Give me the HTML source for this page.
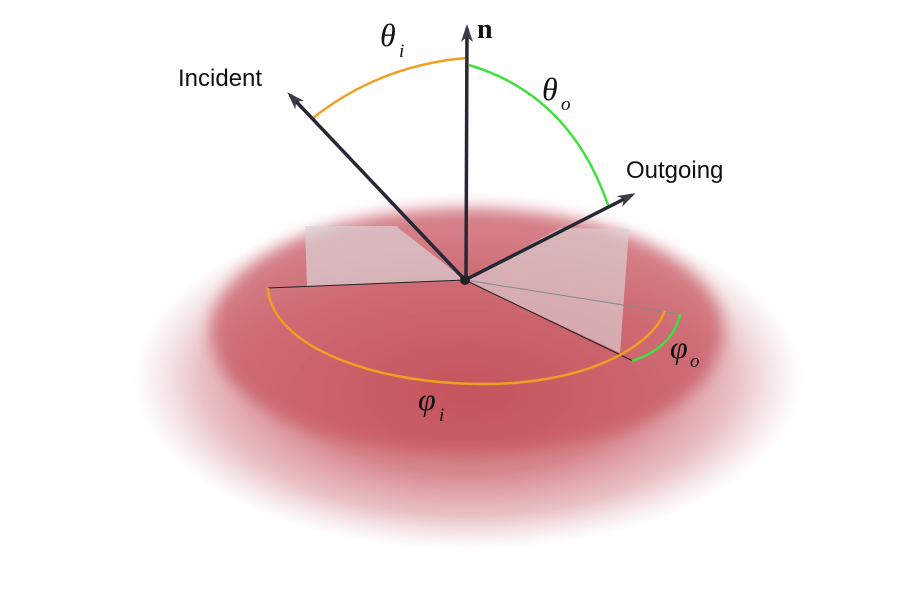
<!DOCTYPE html>
<html><head><meta charset="utf-8"><style>
html,body{margin:0;padding:0;background:#fff;width:900px;height:590px;overflow:hidden}
</style></head><body>
<svg width="900" height="590" viewBox="0 0 900 590" xmlns="http://www.w3.org/2000/svg">
<defs>
<radialGradient id="outer" cx="0.5" cy="0.5" r="0.5">
<stop offset="0.55" stop-color="#d27880" stop-opacity="0.9"/>
<stop offset="0.8" stop-color="#d88e95" stop-opacity="0.55"/>
<stop offset="1" stop-color="#e0b0b4" stop-opacity="0"/>
</radialGradient>
<radialGradient id="inner" cx="0.5" cy="0.75" r="0.65">
<stop offset="0" stop-color="#c6535d"/>
<stop offset="0.7" stop-color="#cd6a73"/>
<stop offset="1" stop-color="#d47e86"/>
</radialGradient>
<filter id="blur"><feGaussianBlur stdDeviation="8"/></filter>
<marker id="ah" markerWidth="18" markerHeight="12" refX="14" refY="6" orient="auto" markerUnits="userSpaceOnUse">
<path d="M0,0 L18,6 L0,12 L5,6 Z" fill="#3a3c4a"/>
</marker>
</defs>
<ellipse cx="468" cy="378" rx="335" ry="172" fill="url(#outer)"/>
<ellipse cx="467" cy="332" rx="256" ry="124" fill="url(#inner)" filter="url(#blur)"/>
<polygon points="305,226 396,226 465,280 307,286" fill="#dcd2d4" opacity="0.7"/>
<polygon points="465,280 560,228 629,229 620,353" fill="#dcd2d4" opacity="0.65"/>
<line x1="465" y1="280" x2="268" y2="288" stroke="#222" stroke-width="1"/>
<line x1="465" y1="280" x2="633" y2="361" stroke="#222" stroke-width="1"/>
<line x1="465" y1="280" x2="680" y2="314" stroke="#888" stroke-width="1"/>
<path d="M268,288 C270,340 360,383 480,384 C580,385 650,350 665,311" fill="none" stroke="#f0a020" stroke-width="2.5"/>
<path d="M680,314 C676,335 660,352 632,361" fill="none" stroke="#3fe040" stroke-width="2.5"/>
<path d="M313,118 Q380,65 467,58" fill="none" stroke="#f0a020" stroke-width="2.5"/>
<path d="M469,65 Q570,95 608,205" fill="none" stroke="#3fe040" stroke-width="2.5"/>
<line x1="465" y1="280" x2="290" y2="95" stroke="#262836" stroke-width="3.5" marker-end="url(#ah)"/>
<line x1="466" y1="280" x2="467" y2="28" stroke="#262836" stroke-width="3.5" marker-end="url(#ah)"/>
<line x1="465" y1="280" x2="632" y2="195" stroke="#262836" stroke-width="3.5" marker-end="url(#ah)"/>
<circle cx="465" cy="280" r="5" fill="#222"/>
<g font-family="Liberation Serif, serif" font-style="italic" fill="#111">
<text x="380" y="46" font-size="32">θ</text><text x="399" y="57" font-size="19">i</text>
<text x="542" y="100" font-size="32">θ</text><text x="561" y="110" font-size="19">o</text>
<text x="670" y="358" font-size="32">φ</text><text x="690" y="367" font-size="19">o</text>
<text x="418" y="410" font-size="32">φ</text><text x="439" y="421" font-size="19">i</text>
</g>
<text x="477" y="38" font-family="Liberation Serif, serif" font-weight="bold" font-size="28" fill="#111">n</text>
<text x="178" y="86" font-family="Liberation Sans, sans-serif" font-size="24" fill="#111">Incident</text>
<text x="626" y="178" font-family="Liberation Sans, sans-serif" font-size="24" fill="#111">Outgoing</text>
</svg>
</body></html>
